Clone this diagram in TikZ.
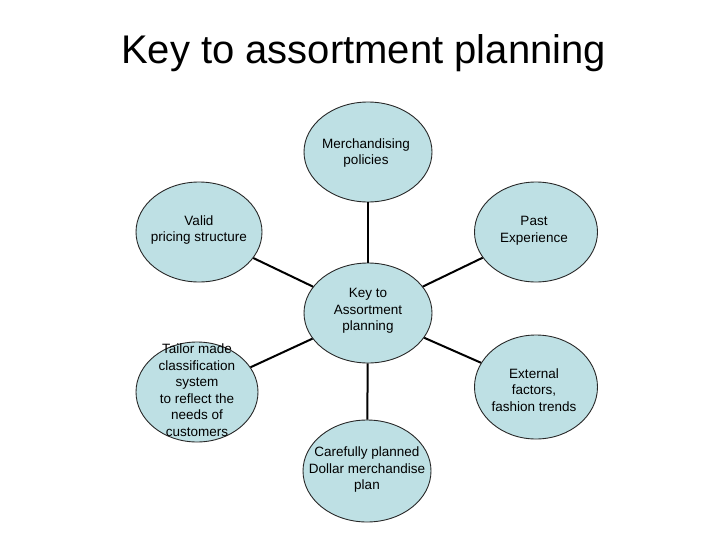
\documentclass[tikz,border=0pt]{standalone}
\usepackage{fontspec}
\setmainfont{Liberation Sans}
\usetikzlibrary{shapes.geometric}
\definecolor{bubble}{RGB}{190,224,228}
\definecolor{rim}{RGB}{40,40,40}
\tikzset{
  bub/.style={ellipse, draw=rim, line width=0.9pt, fill=bubble, inner sep=0pt,
    minimum width=128pt, minimum height=100pt},
  btext/.style={align=center, font=\fontsize{13.5}{16.5}\selectfont, inner sep=0pt},
  link/.style={line width=2pt, black}
}
\begin{document}
\begin{tikzpicture}[x=1pt,y=-1pt]
\useasboundingbox[fill=white] (0,0) rectangle (728,546);
\node[anchor=base west, inner sep=0pt, font=\fontsize{40}{46}\selectfont] (title) at (121,63) {Key to assortment planning};

\node[bub] (c) at (368,313) {};
\node[bub] (t) at (368,152) {};
\node[bub, minimum width=126pt] (vl) at (199,232) {};
\node[bub, minimum width=123pt] (pe) at (536,232) {};
\node[bub, minimum width=122pt] (tm) at (197,392) {};
\node[bub, minimum width=123pt, minimum height=104pt] (ex) at (536,387) {};
\node[bub, minimum height=102pt] (b) at (367,471) {};

\draw[link] (c) -- (t);
\draw[link] (c) -- (vl);
\draw[link] (c) -- (pe);
\draw[link] (c) -- (tm);
\draw[link] (c) -- (ex);
\draw[link] (c) -- (b);

\node[btext] (ct) at (368,311) {Key to\\Assortment\\planning};
\node[btext] (tt) at (366,153) {Merchandising\\policies};
\node[btext] (vlt) at (199,230) {Valid\\pricing structure};
\node[btext] (pet) at (534,231) {Past\\Experience};
\node[btext] (tmt) at (197,390) {Tailor made\\classification\\system\\to reflect the\\needs of\\customers};
\node[btext] (ext) at (534,390) {External\\factors,\\fashion trends};
\node[btext] (bt) at (367,470) {Carefully planned\\Dollar merchandise\\plan};
\end{tikzpicture}
\end{document}
